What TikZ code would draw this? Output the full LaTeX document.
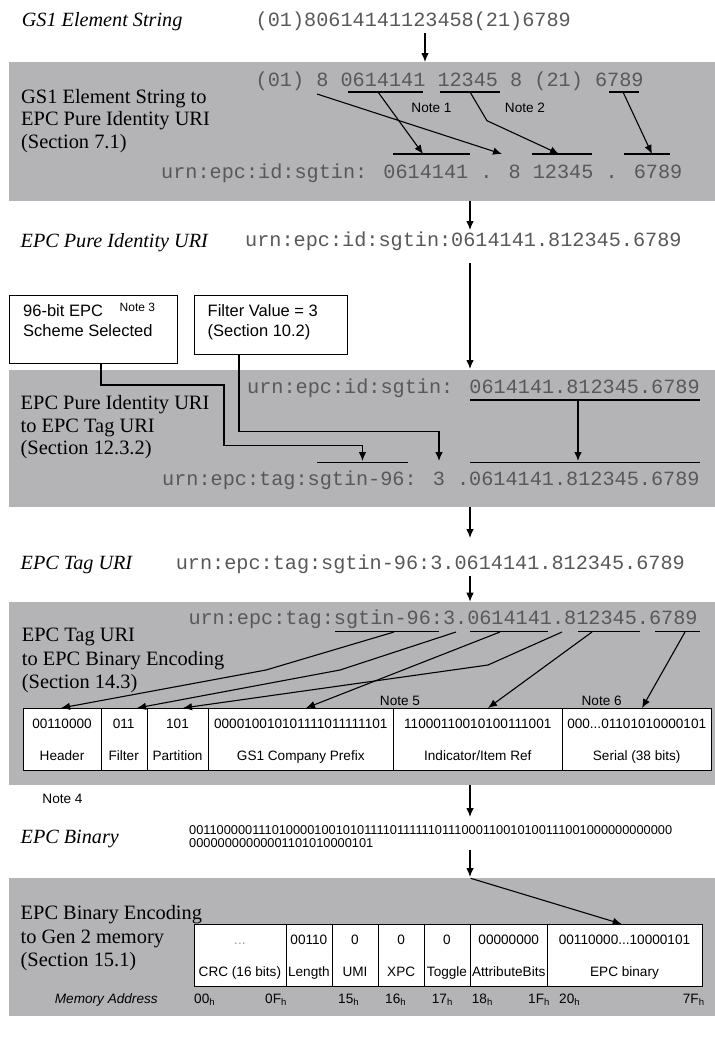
\documentclass[tikz,border=0pt]{standalone}
\usepackage{fontspec}
\setmainfont{Liberation Serif}
\setsansfont{Liberation Sans}
\newfontfamily\monof{Liberation Mono}
\usetikzlibrary{arrows.meta}
\definecolor{bandgray}{RGB}{180,180,183}
\definecolor{monogray}{RGB}{88,88,88}
\definecolor{dotgray}{RGB}{150,150,150}
\tikzset{
  band/.style={fill=bandgray,draw=none},
  mono/.style={font=\monof\fontsize{20.2}{24}\selectfont,text=monogray,inner sep=0pt,anchor=base west},
  ttl/.style={font=\fontsize{20.4}{22}\selectfont,inner sep=0pt,anchor=base west},
  ital/.style={font=\itshape\fontsize{20.2}{24}\selectfont,inner sep=0pt,anchor=base west},
  lbl/.style={font=\sffamily\fontsize{13.6}{16}\selectfont,inner sep=0pt,anchor=base},
  lblw/.style={font=\sffamily\fontsize{13.6}{16}\selectfont,inner sep=0pt,anchor=base west},
  boxtxt/.style={font=\sffamily\fontsize{16.5}{20}\selectfont,inner sep=0pt,anchor=base west},
  bintxt/.style={font=\sffamily\fontsize{12.8}{14}\selectfont,inner sep=0pt,anchor=base west},
  arr/.style={-{Latex[length=9pt,width=7.5pt]},line width=1.1pt},
  ln/.style={line width=1.1pt},
  cell/.style={draw,line width=1pt,fill=white,anchor=north west,inner sep=0pt,minimum height=62pt},
  notebox/.style={draw,line width=1.1pt,fill=white,anchor=north west,inner sep=0pt},
}
\begin{document}
\begin{tikzpicture}[x=1pt,y=-1pt]
\useasboundingbox (0,0) rectangle (715,1045);
% ---------- bands
\fill[band] (9,62) rectangle (715,200.7);
\fill[band] (9,370) rectangle (715,507);
\fill[band] (9,601.7) rectangle (715,785);
\fill[band] (9,878.3) rectangle (715,1016);

% ---------- GS1 element string
\node[ital] (t1) at (21.7,26.7) {GS1 Element String};
\node[mono] (es) at (255.5,26.5) {(01)80614141123458(21)6789};
\coordinate (a1s) at (425,33); \coordinate (a1e) at (425,62);
\draw[arr] (a1s) -- (a1e);

% ---------- band 1
\node[ttl] (b1a) at (21,103.3) {GS1 Element String to};
\node[ttl] (b1b) at (21,125.8) {EPC Pure Identity URI};
\node[ttl] (b1c) at (21,148.3) {(Section 7.1)};
\node[mono] (r1) at (255.5,86.5) {(01) 8 0614141 12345 8 (21) 6789};
\node[mono] (u1) at (161,178) {urn:epc:id:sgtin: 0614141 . 8 12345 . 6789};
\draw[ln] (347.5,92) -- (422.7,92);
\draw[ln] (440,92) -- (500,92);
\draw[ln] (609,92) -- (639,92);
\draw[ln] (393,154) -- (469.6,154);
\draw[ln] (532,154) -- (592,154);
\draw[ln] (624,154) -- (670,154);
\node[lbl] (n1) at (431.5,112) {Note 1};
\node[lbl] (n2) at (525,112) {Note 2};
\coordinate (p1s) at (378,92);  \coordinate (p1e) at (423,154);
\coordinate (p2s) at (317,94);  \coordinate (p2e) at (502,154);
\coordinate (p3s) at (470,92);  \coordinate (p3m) at (487,120.7); \coordinate (p3e) at (559,154);
\coordinate (p4s) at (623,92);  \coordinate (p4e) at (652,154);
\draw[arr] (p1s) -- (p1e);
\draw[arr] (p2s) -- (p2e);
\draw[arr] (p3s) -- (p3m) -- (p3e);
\draw[arr] (p4s) -- (p4e);
\coordinate (a2s) at (470,200.7); \coordinate (a2e) at (470,230);
\draw[arr] (a2s) -- (a2e);

% ---------- EPC pure identity URI
\node[ital] (t2) at (20.5,247) {EPC Pure Identity URI};
\node[mono] (pid) at (245,246.5) {urn:epc:id:sgtin:0614141.812345.6789};
\coordinate (a3s) at (470,263); \coordinate (a3e) at (470,369);
\draw[arr] (a3s) -- (a3e);

% ---------- boxes
\node[notebox,minimum width=168pt,minimum height=68pt] (box1) at (9,295) {};
\node[notebox,minimum width=152.5pt,minimum height=59.3pt] (box2) at (194,295) {};
\node[boxtxt] (bx1a) at (23,316) {96-bit EPC};
\node[boxtxt] (bx1b) at (23,336) {Scheme Selected};
\node[font=\sffamily\fontsize{12}{14}\selectfont,inner sep=0pt,anchor=base west] (n3) at (119.5,311) {Note 3};
\node[boxtxt] (bx2a) at (207.5,316) {Filter Value = 3};
\node[boxtxt] (bx2b) at (207.5,336) {(Section 10.2)};
\coordinate (c1a) at (101,363); \coordinate (c1b) at (101,385); \coordinate (c1c) at (224,385);
\coordinate (c1d) at (224,445.7); \coordinate (c1e) at (362.5,445.7); \coordinate (c1f) at (362.5,461);
\draw[arr] (c1a) -- (c1b) -- (c1c) -- (c1d) -- (c1e) -- (c1f);
\coordinate (c2a) at (239,354.3); \coordinate (c2b) at (239,431.7); \coordinate (c2c) at (439,431.7); \coordinate (c2d) at (439,461);
\draw[arr] (c2a) -- (c2b) -- (c2c) -- (c2d);

% ---------- band 2
\node[ttl] (b2a) at (20.5,409.8) {EPC Pure Identity URI};
\node[ttl] (b2b) at (20.5,432) {to EPC Tag URI};
\node[ttl] (b2c) at (20.5,454.2) {(Section 12.3.2)};
\node[mono] (u2a) at (247,393) {urn:epc:id:sgtin: 0614141.812345.6789};
\draw[ln] (470,400) -- (700,400);
\coordinate (d1s) at (578,400); \coordinate (d1e) at (578,461);
\draw[arr] (d1s) -- (d1e);
\draw[ln] (317,462.3) -- (408,462.3);
\draw[ln] (470,462.3) -- (700,462.3);
\node[mono] (u2b) at (162,485.5) {urn:epc:tag:sgtin-96: 3 .0614141.812345.6789};
\coordinate (a4s) at (470,507); \coordinate (a4e) at (470,538);
\draw[arr] (a4s) -- (a4e);

% ---------- EPC tag URI
\node[ital] (t3) at (20.5,569.5) {EPC Tag URI};
\node[mono] (tag) at (175.6,569.5) {urn:epc:tag:sgtin-96:3.0614141.812345.6789};
\coordinate (a5s) at (470,576); \coordinate (a5e) at (470,601.7);
\draw[arr] (a5s) -- (a5e);

% ---------- band 3
\node[ttl] (b3a) at (21.7,641.5) {EPC Tag URI};
\node[ttl] (b3b) at (21.7,665) {to EPC Binary Encoding};
\node[ttl] (b3c) at (21.7,688.5) {(Section 14.3)};
\node[mono] (u3) at (188.3,624.8) {urn:epc:tag:sgtin-96:3.0614141.812345.6789};
\draw[ln] (335,631.7) -- (439.3,631.7);
\draw[ln] (470,631.7) -- (547.7,631.7);
\draw[ln] (577.7,631.7) -- (640,631.7);
\draw[ln] (655,631.7) -- (700,631.7);
\node[cell,minimum width=77.4pt] (hdr) at (23.3,708) {};
\node[cell,minimum width=46pt] (flt) at (100.7,708) {};
\node[cell,minimum width=61.6pt] (prt) at (146.7,708) {};
\node[cell,minimum width=185pt] (gcp) at (208.3,708) {};
\node[cell,minimum width=169pt] (ind) at (393.3,708) {};
\node[cell,minimum width=148.7pt] (ser) at (562.3,708) {};
\node[lbl] (hdr1) at (62,728) {00110000};
\node[lbl] (hdr2) at (62,760) {Header};
\node[lbl] (flt1) at (123.7,728) {011};
\node[lbl] (flt2) at (123.7,760) {Filter};
\node[lbl] (prt1) at (177.5,728) {101};
\node[lbl] (prt2) at (177.5,760) {Partition};
\node[lbl] (gcp1) at (300.8,728) {000010010101111011111101};
\node[lbl] (gcp2) at (300.8,760) {GS1 Company Prefix};
\node[lbl] (ind1) at (477.8,728) {11000110010100111001};
\node[lbl] (ind2) at (477.8,760) {Indicator/Item Ref};
\node[lbl] (ser1) at (636.7,728) {000...01101010000101};
\node[lbl] (ser2) at (636.7,760) {Serial (38 bits)};
\node[lbl] (n5) at (400,705) {Note 5};
\node[lbl] (n6) at (601.7,705) {Note 6};
\node[lbl] (n4) at (62.5,803) {Note 4};
\coordinate (eA1) at (394,632); \coordinate (eA2) at (266,670); \coordinate (eA3) at (61,708);
\coordinate (eB1) at (456,632); \coordinate (eB2) at (340,670); \coordinate (eB3) at (137,708);
\coordinate (eC1) at (500,632); \coordinate (eC3) at (306,708);
\coordinate (eD1) at (562,632); \coordinate (eD2) at (488,665); \coordinate (eD3) at (183,708);
\coordinate (eE1) at (592,632); \coordinate (eE3) at (488,708);
\coordinate (eF1) at (685,632); \coordinate (eF3) at (642,708);
\draw[arr] (eA1) -- (eA2) -- (eA3);
\draw[arr] (eB1) -- (eB2) -- (eB3);
\draw[arr] (eC1) -- (eC3);
\draw[arr] (eD1) -- (eD2) -- (eD3);
\draw[arr] (eE1) -- (eE3);
\draw[arr] (eF1) -- (eF3);
\coordinate (a6s) at (470,785); \coordinate (a6e) at (470,817);
\draw[arr] (a6s) -- (a6e);

% ---------- EPC binary
\node[ital] (t4) at (20.5,843) {EPC Binary};
\node[bintxt] (bin1) at (189,834.5) {0011000001110100001001010111101111110111000110010100111001000000000000};
\node[bintxt] (bin2) at (189,847.5) {00000000000001101010000101};
\coordinate (a7s) at (470,850); \coordinate (a7e) at (470,877);
\draw[arr] (a7s) -- (a7e);

% ---------- band 4
\node[ttl] (b4a) at (20.5,919.5) {EPC Binary Encoding};
\node[ttl] (b4b) at (20.5,943) {to Gen 2 memory};
\node[ttl] (b4c) at (20.5,966.5) {(Section 15.1)};
\node[cell,minimum width=92.2pt] (crc) at (193.8,924) {};
\node[cell,minimum width=45.7pt] (len) at (286,924) {};
\node[cell,minimum width=46.6pt] (umi) at (331.7,924) {};
\node[cell,minimum width=45.7pt] (xpc) at (378.3,924) {};
\node[cell,minimum width=46pt] (tgl) at (424,924) {};
\node[cell,minimum width=77.3pt] (att) at (470,924) {};
\node[cell,minimum width=154.4pt] (epc) at (547.3,924) {};
\node[lbl,text=dotgray] (crc1) at (239.9,944) {...};
\node[lbl] (crc2) at (239.9,976.5) {CRC (16 bits)};
\node[lbl] (len1) at (308.9,944) {00110};
\node[lbl] (len2) at (308.9,976.5) {Length};
\node[lbl] (umi1) at (355,944) {0};
\node[lbl] (umi2) at (355,976.5) {UMI};
\node[lbl] (xpc1) at (401.2,944) {0};
\node[lbl] (xpc2) at (401.2,976.5) {XPC};
\node[lbl] (tgl1) at (447,944) {0};
\node[lbl] (tgl2) at (447,976.5) {Toggle};
\node[lbl] (att1) at (508.7,944) {00000000};
\node[lbl] (att2) at (508.7,976.5) {AttributeBits};
\node[lbl] (epc1) at (624.5,944) {00110000...10000101};
\node[lbl] (epc2) at (624.5,976.5) {EPC binary};
\coordinate (a8s) at (470.7,878.3); \coordinate (a8e) at (621.7,924);
\draw[arr] (a8s) -- (a8e);
\node[font=\sffamily\itshape\fontsize{13.6}{16}\selectfont,inner sep=0pt,anchor=base west] (mem) at (54.7,1003) {Memory Address};
\node[lblw] (m00) at (194,1003) {00\textsubscript{h}};
\node[lblw] (m0F) at (265,1003) {0F\textsubscript{h}};
\node[lblw] (m15) at (338,1003) {15\textsubscript{h}};
\node[lblw] (m16) at (385,1003) {16\textsubscript{h}};
\node[lblw] (m17) at (431.7,1003) {17\textsubscript{h}};
\node[lblw] (m18) at (471.7,1003) {18\textsubscript{h}};
\node[lblw] (m1F) at (528,1003) {1F\textsubscript{h}};
\node[lblw] (m20) at (559,1003) {20\textsubscript{h}};
\node[lblw] (m7F) at (682.7,1003) {7F\textsubscript{h}};
\end{tikzpicture}
\end{document}
